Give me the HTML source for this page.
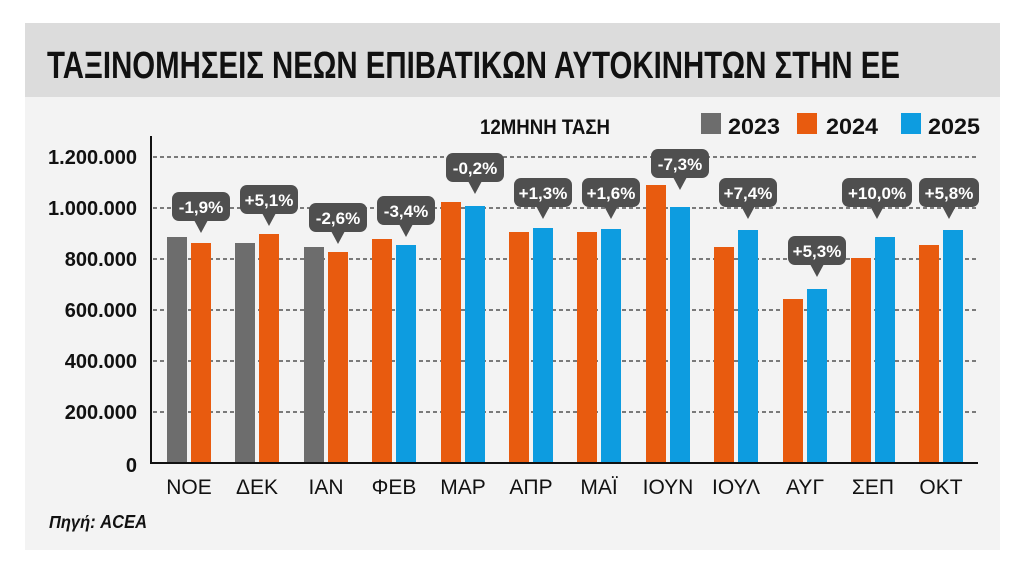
<!DOCTYPE html>
<html><head><meta charset="utf-8"><style>
html,body{margin:0;padding:0;background:#fff;}
svg{display:block;font-family:"Liberation Sans","DejaVu Sans",sans-serif;}
</style></head><body>
<svg width="1024" height="573" viewBox="0 0 1024 573" xmlns="http://www.w3.org/2000/svg">
<rect x="0" y="0" width="1024" height="573" fill="#fff"/>
<rect x="25" y="23" width="975" height="527" fill="#f3f3f3"/>
<rect x="25" y="23" width="975" height="74" fill="#dcdcdc"/>
<text x="47" y="78" font-size="38" font-weight="bold" fill="#111" textLength="853" lengthAdjust="spacingAndGlyphs">ΤΑΞΙΝΟΜΗΣΕΙΣ ΝΕΩΝ ΕΠΙΒΑΤΙΚΩΝ ΑΥΤΟΚΙΝΗΤΩΝ ΣΤΗΝ ΕΕ</text>
<text x="480" y="134" font-size="21" font-weight="bold" fill="#111" textLength="130" lengthAdjust="spacingAndGlyphs">12ΜΗΝΗ ΤΑΣΗ</text>
<rect x="701" y="113" width="20" height="21" fill="#6d6d6d"/>
<text x="728" y="134" font-size="22" font-weight="bold" fill="#111" textLength="52" lengthAdjust="spacingAndGlyphs">2023</text>
<rect x="797" y="113" width="20" height="21" fill="#e85b0f"/>
<text x="826" y="134" font-size="22" font-weight="bold" fill="#111" textLength="52" lengthAdjust="spacingAndGlyphs">2024</text>
<rect x="901" y="113" width="20" height="21" fill="#0d9ce0"/>
<text x="928" y="134" font-size="22" font-weight="bold" fill="#111" textLength="52" lengthAdjust="spacingAndGlyphs">2025</text>
<g stroke="#333" stroke-width="1.3" stroke-dasharray="4,3">
<line x1="153" y1="157" x2="978" y2="157"/>
<line x1="153" y1="208" x2="978" y2="208"/>
<line x1="153" y1="259" x2="978" y2="259"/>
<line x1="153" y1="310" x2="978" y2="310"/>
<line x1="153" y1="361" x2="978" y2="361"/>
<line x1="153" y1="412" x2="978" y2="412"/>
</g>
<g font-size="20" font-weight="bold" fill="#111" text-anchor="end">
<text x="137" y="164">1.200.000</text>
<text x="137" y="215">1.000.000</text>
<text x="137" y="266">800.000</text>
<text x="137" y="317">600.000</text>
<text x="137" y="368">400.000</text>
<text x="137" y="419">200.000</text>
<text x="137" y="472">0</text>
</g>
<g>
<rect x="167" y="237" width="20" height="226" fill="#6d6d6d"/><rect x="191" y="243" width="20" height="220" fill="#e85b0f"/>
<rect x="235" y="243" width="20" height="220" fill="#6d6d6d"/><rect x="259" y="234" width="20" height="229" fill="#e85b0f"/>
<rect x="304" y="247" width="20" height="216" fill="#6d6d6d"/><rect x="328" y="252" width="20" height="211" fill="#e85b0f"/>
<rect x="372" y="239" width="20" height="224" fill="#e85b0f"/><rect x="396" y="245" width="20" height="218" fill="#0d9ce0"/>
<rect x="441" y="202" width="20" height="261" fill="#e85b0f"/><rect x="465" y="206" width="20" height="257" fill="#0d9ce0"/>
<rect x="509" y="232" width="20" height="231" fill="#e85b0f"/><rect x="533" y="228" width="20" height="235" fill="#0d9ce0"/>
<rect x="577" y="232" width="20" height="231" fill="#e85b0f"/><rect x="601" y="229" width="20" height="234" fill="#0d9ce0"/>
<rect x="646" y="185" width="20" height="278" fill="#e85b0f"/><rect x="670" y="207" width="20" height="256" fill="#0d9ce0"/>
<rect x="714" y="247" width="20" height="216" fill="#e85b0f"/><rect x="738" y="230" width="20" height="233" fill="#0d9ce0"/>
<rect x="783" y="299" width="20" height="164" fill="#e85b0f"/><rect x="807" y="289" width="20" height="174" fill="#0d9ce0"/>
<rect x="851" y="258" width="20" height="205" fill="#e85b0f"/><rect x="875" y="237" width="20" height="226" fill="#0d9ce0"/>
<rect x="919" y="245" width="20" height="218" fill="#e85b0f"/><rect x="943" y="230" width="20" height="233" fill="#0d9ce0"/>
</g>
<line x1="151" y1="136" x2="151" y2="464" stroke="#111" stroke-width="2"/>
<line x1="150" y1="463" x2="978" y2="463" stroke="#111" stroke-width="2"/>
<g font-size="17" font-weight="bold" fill="#fff" text-anchor="middle">
<g transform="translate(201,233)"><rect x="-29" y="-41" width="58" height="29" rx="7" fill="#4f4f4f"/><path d="M-7,-13 L7,-13 L0,0 Z" fill="#4f4f4f"/><text x="0" y="-20">-1,9%</text></g>
<g transform="translate(269,226)"><rect x="-29" y="-41" width="58" height="29" rx="7" fill="#4f4f4f"/><path d="M-7,-13 L7,-13 L0,0 Z" fill="#4f4f4f"/><text x="0" y="-20">+5,1%</text></g>
<g transform="translate(338,244)"><rect x="-29" y="-41" width="58" height="29" rx="7" fill="#4f4f4f"/><path d="M-7,-13 L7,-13 L0,0 Z" fill="#4f4f4f"/><text x="0" y="-20">-2,6%</text></g>
<g transform="translate(406,237)"><rect x="-29" y="-41" width="58" height="29" rx="7" fill="#4f4f4f"/><path d="M-7,-13 L7,-13 L0,0 Z" fill="#4f4f4f"/><text x="0" y="-20">-3,4%</text></g>
<g transform="translate(475,194)"><rect x="-29" y="-41" width="58" height="29" rx="7" fill="#4f4f4f"/><path d="M-7,-13 L7,-13 L0,0 Z" fill="#4f4f4f"/><text x="0" y="-20">-0,2%</text></g>
<g transform="translate(543,219)"><rect x="-29" y="-41" width="58" height="29" rx="7" fill="#4f4f4f"/><path d="M-7,-13 L7,-13 L0,0 Z" fill="#4f4f4f"/><text x="0" y="-20">+1,3%</text></g>
<g transform="translate(611,219)"><rect x="-29" y="-41" width="58" height="29" rx="7" fill="#4f4f4f"/><path d="M-7,-13 L7,-13 L0,0 Z" fill="#4f4f4f"/><text x="0" y="-20">+1,6%</text></g>
<g transform="translate(680,190)"><rect x="-29" y="-41" width="58" height="29" rx="7" fill="#4f4f4f"/><path d="M-7,-13 L7,-13 L0,0 Z" fill="#4f4f4f"/><text x="0" y="-20">-7,3%</text></g>
<g transform="translate(748,219)"><rect x="-29" y="-41" width="58" height="29" rx="7" fill="#4f4f4f"/><path d="M-7,-13 L7,-13 L0,0 Z" fill="#4f4f4f"/><text x="0" y="-20">+7,4%</text></g>
<g transform="translate(817,277)"><rect x="-29" y="-41" width="58" height="29" rx="7" fill="#4f4f4f"/><path d="M-7,-13 L7,-13 L0,0 Z" fill="#4f4f4f"/><text x="0" y="-20">+5,3%</text></g>
<g transform="translate(877,219)"><rect x="-35" y="-41" width="70" height="29" rx="7" fill="#4f4f4f"/><path d="M-7,-13 L7,-13 L0,0 Z" fill="#4f4f4f"/><text x="0" y="-20">+10,0%</text></g>
<g transform="translate(949,219)"><rect x="-30" y="-41" width="60" height="29" rx="7" fill="#4f4f4f"/><path d="M-7,-13 L7,-13 L0,0 Z" fill="#4f4f4f"/><text x="0" y="-20">+5,8%</text></g>
</g>
<g font-size="21" fill="#111" text-anchor="middle">
<text x="189" y="494">ΝΟΕ</text>
<text x="257" y="494">ΔΕΚ</text>
<text x="326" y="494">ΙΑΝ</text>
<text x="394" y="494">ΦΕΒ</text>
<text x="463" y="494">ΜΑΡ</text>
<text x="531" y="494">ΑΠΡ</text>
<text x="599" y="494">ΜΑΪ</text>
<text x="668" y="494">ΙΟΥΝ</text>
<text x="736" y="494">ΙΟΥΛ</text>
<text x="805" y="494">ΑΥΓ</text>
<text x="873" y="494">ΣΕΠ</text>
<text x="941" y="494">ΟΚΤ</text>
</g>
<text x="49" y="528" font-size="18" font-weight="bold" font-style="italic" fill="#111" textLength="98" lengthAdjust="spacingAndGlyphs">Πηγή: ACEA</text>
</svg>
</body></html>
